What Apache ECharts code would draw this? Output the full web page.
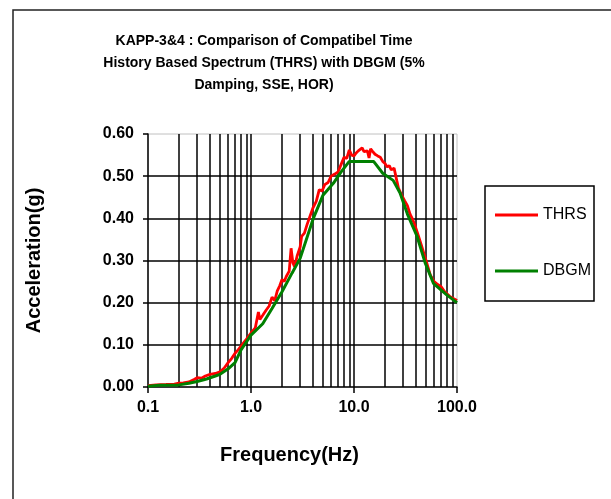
<!DOCTYPE html>
<html lang="en">
<head>
<meta charset="UTF-8">
<title>KAPP-3&4 THRS vs DBGM</title>
<script src="https://cdn.jsdelivr.net/npm/echarts@6/dist/echarts.min.js"></script>
<style>
  html, body { margin: 0; padding: 0; background: #fff; }
  #main { width: 611px; height: 499px; }
</style>
</head>
<body>
<div id="main"></div>
<script>
// frequency (Hz) / acceleration (g)
var thrsFreq = [0.1, 0.12, 0.15, 0.18, 0.2, 0.22, 0.25, 0.28, 0.3, 0.33, 0.36, 0.4, 0.45, 0.5, 0.55, 0.6, 0.65, 0.7, 0.75, 0.8,
    0.9, 1.0, 1.1, 1.18, 1.22, 1.3, 1.4, 1.5, 1.6, 1.7, 1.8, 1.9, 2.0, 2.1, 2.2, 2.35, 2.45, 2.55, 2.65, 2.8,
    3.0, 3.1, 3.3, 3.5, 3.8, 4.0, 4.3, 4.6, 4.9, 5.2, 5.6, 6.0, 6.5, 7.0, 7.5, 8.0, 8.5, 9.0, 9.5, 10,
    10.5, 11, 12, 12.5, 13, 13.5, 14, 14.5, 15, 16, 17, 18, 19, 20, 21, 22, 23, 24.5, 26, 27,
    29, 31, 33, 35, 37, 39, 42, 45, 50, 55, 60, 65, 70, 76, 85, 92, 100];
var thrsAcc = [0.003, 0.005, 0.006, 0.007, 0.009, 0.010, 0.012, 0.018, 0.022, 0.021, 0.026, 0.030, 0.032, 0.036, 0.045, 0.058, 0.068, 0.080, 0.088, 0.097,
    0.113, 0.128, 0.140, 0.178, 0.160, 0.170, 0.182, 0.192, 0.213, 0.205, 0.228, 0.240, 0.255, 0.250, 0.262, 0.275, 0.329, 0.295, 0.285, 0.310,
    0.332, 0.357, 0.365, 0.385, 0.410, 0.425, 0.440, 0.468, 0.465, 0.480, 0.485, 0.500, 0.505, 0.510, 0.528, 0.545, 0.542, 0.562, 0.550, 0.548,
    0.555, 0.560, 0.567, 0.558, 0.562, 0.560, 0.543, 0.565, 0.560, 0.552, 0.548, 0.545, 0.535, 0.530, 0.522, 0.525, 0.515, 0.519, 0.490, 0.472,
    0.455, 0.442, 0.430, 0.410, 0.398, 0.384, 0.360, 0.337, 0.300, 0.266, 0.250, 0.243, 0.238, 0.226, 0.215, 0.210, 0.205];

var dbgmFreq = [0.1, 0.13, 0.2, 0.25, 0.3, 0.37, 0.45, 0.5, 0.6, 0.7, 0.8, 1.0, 1.3, 1.6, 2.0, 2.5, 3.0, 4.0, 5.0, 6.3,
    7.5, 9.0, 15.5, 19, 24, 28, 33, 41, 49, 59, 80, 100];
var dbgmAcc = [0.002, 0.004, 0.005, 0.009, 0.013, 0.019, 0.026, 0.030, 0.043, 0.058, 0.088, 0.123, 0.150, 0.186, 0.226, 0.270, 0.305, 0.398, 0.455, 0.483,
    0.510, 0.535, 0.535, 0.507, 0.490, 0.460, 0.410, 0.357, 0.295, 0.246, 0.218, 0.200];

// minor vertical grid lines of the log axis
var gridFreq = [0.2, 0.3, 0.4, 0.5, 0.6, 0.7, 0.8, 0.9, 2, 3, 4, 5, 6, 7, 8, 9, 20, 30, 40, 50, 60, 70, 80, 90];

var titleLines = ['KAPP-3&4 : Comparison of Compatibel Time', 'History Based Spectrum (THRS) with DBGM (5%', 'Damping, SSE, HOR)'];

function pairs(xs, ys) {
    var out = [];
    for (var i = 0; i < xs.length; i++) out.push([xs[i], ys[i]]);
    return out;
}

var myChart = echarts.init(document.getElementById('main'), null, { renderer: 'canvas' });

var option = {
    animation: false,
    backgroundColor: '#fff',
    textStyle: { fontFamily: 'Liberation Sans, Arial, sans-serif' },
    graphic: [
        {
            type: 'rect', z: 0, silent: true,
            shape: { x: 13, y: 10, width: 700, height: 600 },
            style: { fill: 'none', stroke: '#222', lineWidth: 1.5 }
        },
        {
            type: 'text', x: 264, y: 30, silent: true,
            style: {
                text: titleLines.join('\n'),
                font: 'bold 14px "Liberation Sans", Arial, sans-serif',
                lineHeight: 22, align: 'center', verticalAlign: 'top', fill: '#000'
            }
        }
    ],
    grid: {
        left: 148, top: 134, right: 154, bottom: 112,
        show: true, borderColor: '#c0c0c0', borderWidth: 1,
        containLabel: false, outerBoundsMode: 'none'
    },
    legend: {
        data: [{ name: 'THRS', icon: 'rect' }, { name: 'DBGM', icon: 'rect' }],
        orient: 'vertical',
        left: 485, top: 186,
        padding: [21, 3, 22, 10],
        itemWidth: 43, itemHeight: 3, itemGap: 40, itemTextGap: 5,
        borderColor: '#000', borderWidth: 1.5, borderRadius: 0,
        textStyle: { fontSize: 16, color: '#000', fontFamily: 'Liberation Sans, Arial, sans-serif' }
    },
    xAxis: {
        type: 'log', logBase: 10, min: 0.1, max: 100,
        name: 'Frequency(Hz)', nameLocation: 'middle', nameGap: 58,
        nameTextStyle: { fontSize: 20, fontWeight: 'bold', color: '#000', padding: [0, 26, 0, 0] },
        axisLine: { onZero: false, lineStyle: { color: '#000', width: 1.5 } },
        axisTick: { show: true, inside: false, length: 6, lineStyle: { color: '#000', width: 1.5 } },
        axisLabel: {
            margin: 13, fontSize: 16, fontWeight: 'bold', color: '#000',
            formatter: function (v) { return Number(v).toFixed(1); }
        },
        splitLine: { show: true, showMinLine: false, showMaxLine: false, lineStyle: { color: '#000', width: 1.5 } },
        minorTick: { show: false }, minorSplitLine: { show: false }
    },
    yAxis: {
        type: 'value', min: 0, max: 0.6, interval: 0.1,
        name: 'Acceleration(g)', nameLocation: 'middle', nameGap: 104,
        nameTextStyle: { fontSize: 20, fontWeight: 'bold', color: '#000' },
        axisLine: { show: true, lineStyle: { color: '#000', width: 1.5 } },
        axisTick: { show: true, inside: false, length: 5, lineStyle: { color: '#000', width: 1.5 } },
        axisLabel: {
            margin: 14, fontSize: 16, fontWeight: 'bold', color: '#000',
            formatter: function (v) { return v.toFixed(2); }
        },
        splitLine: { show: true, showMinLine: false, showMaxLine: false, lineStyle: { color: '#000', width: 1.5 } }
    },
    series: [
        {
            name: 'grid', type: 'line', data: [], z: 1, silent: true,
            markLine: {
                z: 1, silent: true, symbol: ['none', 'none'], animation: false,
                label: { show: false },
                lineStyle: { color: '#000', type: 'solid', width: 1.5 },
                emphasis: { disabled: true },
                data: gridFreq.map(function (f) { return { xAxis: f }; })
            }
        },
        {
            name: 'THRS', type: 'line', z: 3, symbol: 'none', smooth: false,
            lineStyle: { color: '#ff0000', width: 2.8 },
            itemStyle: { color: '#ff0000' },
            data: pairs(thrsFreq, thrsAcc)
        },
        {
            name: 'DBGM', type: 'line', z: 4, symbol: 'none', smooth: false,
            lineStyle: { color: '#008000', width: 3 },
            itemStyle: { color: '#008000' },
            data: pairs(dbgmFreq, dbgmAcc)
        }
    ]
};
myChart.setOption(option);
</script>
</body>
</html>
